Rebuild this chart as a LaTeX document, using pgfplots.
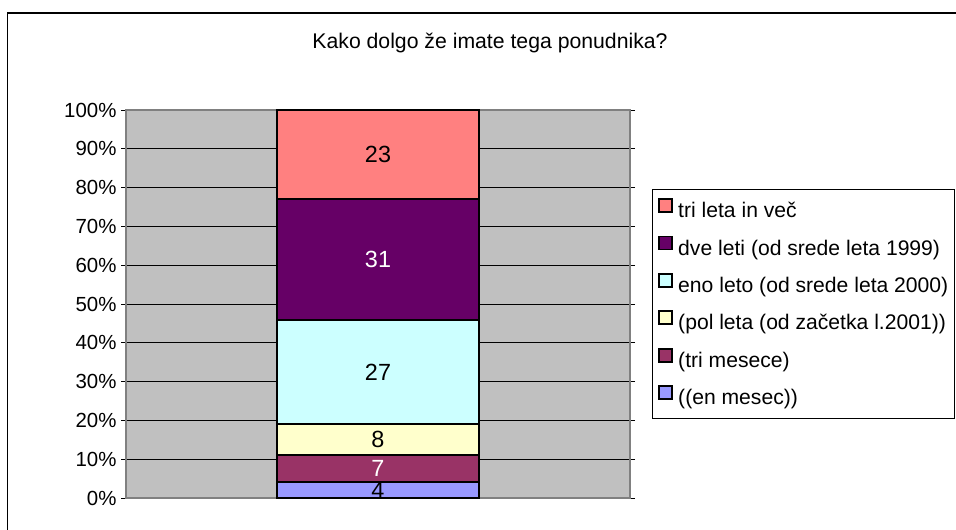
\documentclass[border=0pt]{standalone}
\usepackage{fontspec}
\setmainfont{Liberation Sans}
\usepackage{pgfplots}
\pgfplotsset{compat=1.18}
\definecolor{cA}{HTML}{9999FF}
\definecolor{cB}{HTML}{993366}
\definecolor{cC}{HTML}{FFFFCC}
\definecolor{cD}{HTML}{CCFFFF}
\definecolor{cE}{HTML}{660066}
\definecolor{cF}{HTML}{FF8080}
\definecolor{plotbg}{HTML}{C0C0C0}
\definecolor{frame}{HTML}{808080}
\pgfplotsset{
  seg/.style 2 args={fill=#1, draw=black, line width=2bp,
    every node near coord/.style={anchor=center, text=#2,
      font=\fontsize{23.5}{27}\selectfont}},
}
\begin{document}
\begin{tikzpicture}[x=1bp,y=1bp]
\useasboundingbox (0,0) rectangle (956,530);
\fill[white] (0,0) rectangle (956,530);
\draw[black, line width=1.2bp] (7.5,-10) -- (7.5,517) -- (970,517);
\node[font=\fontsize{21.3}{25}\selectfont] at (490,487) {Kako dolgo že imate tega ponudnika?};
\begin{axis}[
  at={(126bp,32bp)}, anchor=south west,
  scale only axis, width=504bp, height=388bp,
  xmin=-1.25, xmax=1.25, ymin=0, ymax=100,
  ybar stacked, bar width=1,
  clip=false,
  xtick=\empty,
  ytick={0,10,...,100},
  yticklabel={\pgfmathprintnumber{\tick}\%},
  yticklabel style={xshift=-1bp},
  /pgf/number format/assume math mode=true,
  font=\fontsize{20.5}{24}\selectfont,
  ymajorgrids, grid style={black, line width=0.8bp},
  axis background/.style={fill=plotbg},
  axis line style={frame, line width=1.6bp},
  tick align=outside, major tick length=5bp,
  ytick style={black, line width=0.8bp},
  point meta=explicit,
  nodes near coords,
  legend style={at={(1.0437,0.5)}, anchor=west, draw=black, line width=0.8bp, fill=white,
    inner xsep=6bp, inner ysep=8.5bp, row sep=13bp,
    nodes={inner sep=0pt, text height=15bp, text depth=5bp, font=\fontsize{21.2}{25}\selectfont},
    /tikz/every odd column/.style={column sep=5bp}},
  legend cell align=left,
  reverse legend,
  legend image code/.code={\draw[#1, draw=black, line width=1.8bp] (0bp,0.5bp) rectangle (13bp,13.5bp);},
]
\addplot[seg={cA}{black}] coordinates {(0,4) [4]};
\addlegendentry{((en mesec))}
\addplot[seg={cB}{white}] coordinates {(0,7) [7]};
\addlegendentry{(tri mesece)}
\addplot[seg={cC}{black}] coordinates {(0,8) [8]};
\addlegendentry{(pol leta (od začetka l.2001))}
\addplot[seg={cD}{black}] coordinates {(0,27) [27]};
\addlegendentry{eno leto (od srede leta 2000)}
\addplot[seg={cE}{white}] coordinates {(0,31) [31]};
\addlegendentry{dve leti (od srede leta 1999)}
\addplot[seg={cF}{black}] coordinates {(0,23) [23]};
\addlegendentry{tri leta in več}
\end{axis}
\end{tikzpicture}
\end{document}
